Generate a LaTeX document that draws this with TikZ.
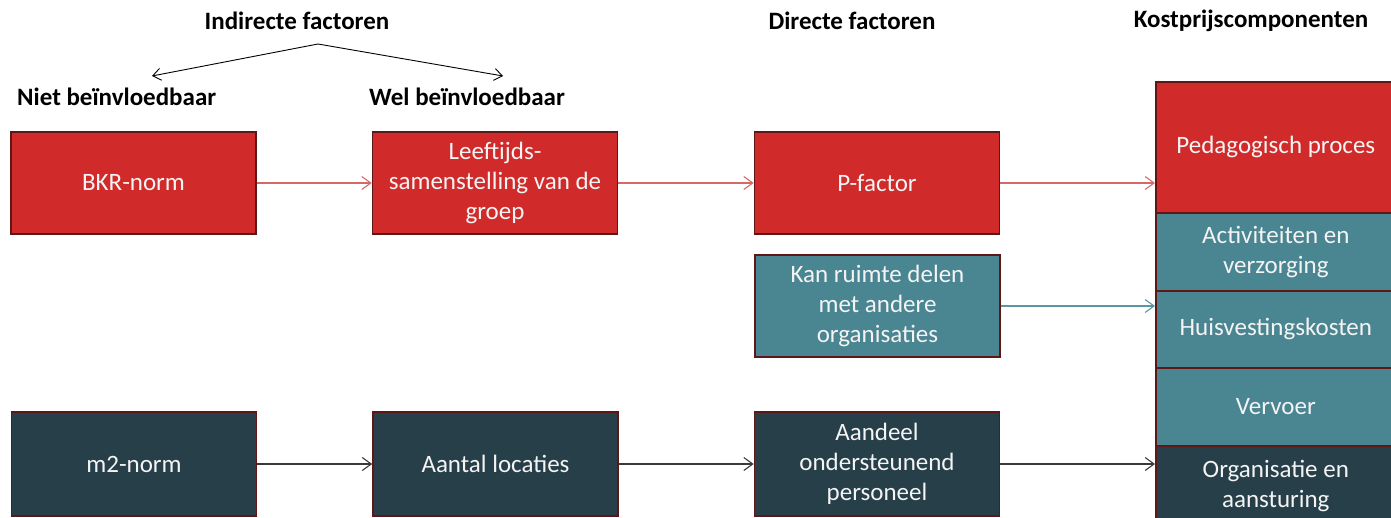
\documentclass[tikz,border=0pt]{standalone}
\usepackage{fontspec}
\setmainfont{Carlito}
\usetikzlibrary{arrows.meta}
\definecolor{cred}{HTML}{D02B2A}
\definecolor{cteal}{HTML}{4A8592}
\definecolor{cdark}{HTML}{263F49}
\definecolor{cborder}{HTML}{5E1717}
\definecolor{ared}{HTML}{D46A68}
\definecolor{ateal}{HTML}{5A96A3}
\definecolor{adark}{HTML}{3A3A3A}
\definecolor{ctext}{HTML}{F4F4F4}
\tikzset{
  box/.style={draw=cborder, line width=1.6pt, text=ctext, align=center,
    font=\fontsize{25}{30}\selectfont, inner sep=0pt},
  redbox/.style={box, fill=cred},
  tealbox/.style={box, fill=cteal},
  darkbox/.style={box, fill=cdark},
  mid/.style={minimum width=245pt, minimum height=102pt},
  col/.style={minimum width=240pt, anchor=north west},
  conn/.style={line width=1.1pt, -{Straight Barb[length=9pt,width=13pt]}},
  hdr/.style={font=\fontsize{25}{30}\bfseries\selectfont, text=black, inner sep=0pt},
}
\begin{document}
\begin{tikzpicture}[x=1pt,y=-1pt]
\useasboundingbox (0,0) rectangle (1391,518);
\clip (0,0) rectangle (1391,518);
% headers
\node[hdr] (h1) at (297,21) {Indirecte factoren};
\node[hdr] (h2) at (852,21) {Directe factoren};
\node[hdr] (h3) at (1251,21) {Kostprijscomponenten};
\node[hdr, anchor=west] (h4) at (17,97) {Niet beïnvloedbaar};
\node[hdr] (h5) at (467,97) {Wel beïnvloedbaar};
\coordinate (apex) at (318,44);
\coordinate (tl) at (152,76);
\coordinate (tr) at (503,76);
\draw[line width=0.9pt, -{Straight Barb[length=8pt,width=12pt]}] (apex) -- (tl);
\draw[line width=0.9pt, -{Straight Barb[length=8pt,width=12pt]}] (apex) -- (tr);
% column boxes
\node[redbox, mid] (bkr) at (133.5,183) {BKR-norm};
\node[redbox, mid] (leef) at (495,183) {Leeftijds-\\samenstelling van de\\groep};
\node[redbox, mid] (pf) at (877,183) {P-factor};
\node[tealbox, mid] (kan) at (877.5,306) {Kan ruimte delen\\met andere\\organisaties};
\node[darkbox, mid, minimum height=104pt] (m2) at (134,464) {m2-norm};
\node[darkbox, mid, minimum height=104pt] (aant) at (495.5,464) {Aantal locaties};
\node[darkbox, mid, minimum height=104pt] (aand) at (877,464) {Aandeel\\ondersteunend\\personeel};
% right stack
\node[redbox, col, minimum height=131pt] (ped) at (1155,81) {Pedagogisch proces};
\node[tealbox, col, minimum height=78pt] (act) at (1155,212) {Activiteiten en\\verzorging};
\node[tealbox, col, minimum height=77pt] (huis) at (1155,290) {Huisvestingskosten};
\node[tealbox, col, minimum height=78pt] (verv) at (1155,367) {Vervoer};
\node[darkbox, col, minimum height=80pt] (org) at (1155,445) {Organisatie en\\aansturing};
% connectors
\draw[conn, ared] (bkr.east) -- (leef.west);
\draw[conn, ared] (leef.east) -- (pf.west);
\draw[conn, ared] (pf.east) -- (pf.east -| ped.west);
\draw[conn, ateal] (kan.east) -- (kan.east -| huis.west);
\draw[conn, adark] (m2.east) -- (aant.west);
\draw[conn, adark] (aant.east) -- (aand.west);
\draw[conn, adark] (aand.east) -- (aand.east -| org.west);
\end{tikzpicture}
\end{document}
